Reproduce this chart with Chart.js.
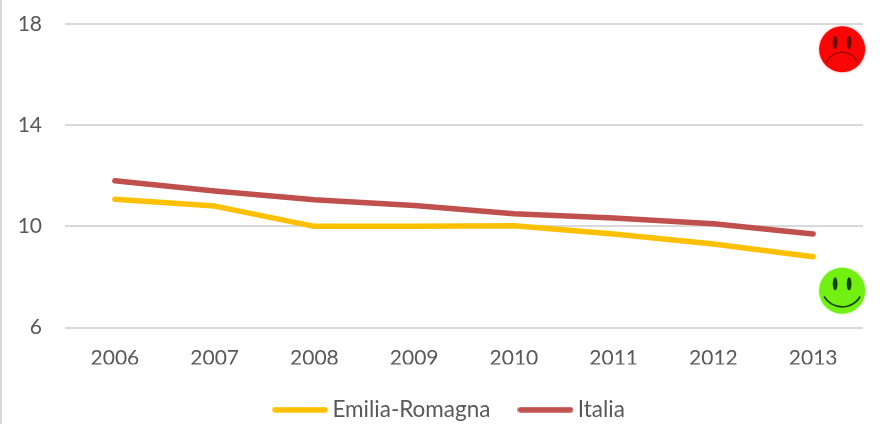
<!DOCTYPE html>
<html>
<head>
<meta charset="utf-8">
<style>
  html, body { margin: 0; padding: 0; background: #fff; }
  canvas { display: block; }
</style>
<script src="https://cdn.jsdelivr.net/npm/chart.js"></script>
</head>
<body>
<canvas id="chart" width="889" height="424"></canvas>
<script>
const years = ['2006', '2007', '2008', '2009', '2010', '2011', '2012', '2013'];
const emilia = [11.07, 10.8, 10.0, 10.0, 10.02, 9.7, 9.3, 8.8];
const italia = [11.8, 11.4, 11.05, 10.82, 10.5, 10.33, 10.1, 9.7];
const yTicks = [6, 10, 14, 18];

const grey = '#595959';
const gridGrey = '#d9d9d9';
const yellow = '#ffc000';
const red = '#c0504d';

// legend key: a short round-capped stroke
function legendKey(color) {
  const c = document.createElement('canvas');
  c.width = 56;
  c.height = 6;
  const ctx = c.getContext('2d');
  ctx.strokeStyle = color;
  ctx.lineWidth = 5.5;
  ctx.lineCap = 'round';
  ctx.beginPath();
  ctx.moveTo(3, 3);
  ctx.lineTo(53, 3);
  ctx.stroke();
  return c;
}

// sad / happy faces sit right of the last category
function drawFace(ctx, x, y, color, glow, happy) {
  const r = 23;
  ctx.save();
  ctx.beginPath();
  ctx.arc(x, y, r, 0, Math.PI * 2);
  ctx.fillStyle = color;
  ctx.shadowColor = glow;
  ctx.shadowBlur = 3;
  ctx.fill();
  ctx.shadowBlur = 0;
  ctx.fillStyle = happy ? '#14400a' : '#6a0a0a';
  [-7, 7].forEach(dx => {
    ctx.beginPath();
    ctx.ellipse(x + dx, y - 7, 2.4, 6.5, 0, 0, Math.PI * 2);
    ctx.fill();
  });
  ctx.strokeStyle = happy ? '#14400a' : '#a00808';
  ctx.lineWidth = happy ? 1.6 : 1.4;
  ctx.beginPath();
  if (happy) ctx.arc(x, y - 5, 21, Math.PI * 0.17, Math.PI * 0.83);
  else ctx.arc(x, y + 20, 17, Math.PI * 1.12, Math.PI * 1.88);
  ctx.stroke();
  ctx.restore();
}

const decorations = {
  id: 'decorations',
  afterLayout(chart) {
    // legend is centred on the whole page, not on the plot
    chart.legend.left += 20.5;
    chart.legend.right += 20.5;
  },
  beforeDraw(chart) {
    const { ctx, height } = chart;
    ctx.fillStyle = gridGrey;
    ctx.fillRect(0, 0, 2, height);
  },
  afterDraw(chart) {
    const { ctx, scales } = chart;
    const x = scales.x.getPixelForValue(7) + 29;
    drawFace(ctx, x, scales.y.getPixelForValue(17), '#fb0606', '#ff9a9a', false);
    drawFace(ctx, x, scales.y.getPixelForValue(7.45), '#72f012', '#b6f590', true);
  }
};

new Chart(document.getElementById('chart'), {
  type: 'line',
  data: {
    labels: years,
    datasets: [
      { label: 'Emilia-Romagna', data: emilia, borderColor: yellow, backgroundColor: yellow, borderWidth: 5.5, borderCapStyle: 'round', borderJoinStyle: 'round', pointStyle: legendKey(yellow) },
      { label: 'Italia', data: italia, borderColor: red, backgroundColor: red, borderWidth: 5.5, borderCapStyle: 'round', borderJoinStyle: 'round', pointStyle: legendKey(red) }
    ]
  },
  options: {
    responsive: false,
    animation: false,
    layout: { padding: { top: 24, right: 26, bottom: -7, left: 0 } },
    elements: {
      line: { tension: 0 },
      point: { radius: 0 }
    },
    plugins: {
      tooltip: { enabled: false },
      legend: {
        position: 'bottom',
        labels: {
          usePointStyle: true,
          pointStyleWidth: 42,
          color: grey,
          padding: 34,
          font: { family: 'Lato', size: 22.5 }
        }
      }
    },
    scales: {
      x: {
        offset: true,
        grid: { display: false },
        border: { display: false },
        ticks: { color: grey, padding: 10, font: { family: 'Lato', size: 21 }, maxRotation: 0 },
        afterFit(scale) { scale.height = 37; }
      },
      y: {
        min: 6,
        max: 18,
        afterBuildTicks(scale) { scale.ticks = yTicks.map(value => ({ value })); },
        grid: { color: gridGrey, lineWidth: 2, drawTicks: false },
        border: { display: false },
        ticks: { color: grey, padding: 23, font: { family: 'Lato', size: 21 } },
        afterFit(scale) {
          scale.width = 65;
          scale.paddingTop = 0;
          scale.paddingBottom = 0;
        }
      }
    }
  },
  plugins: [decorations]
});
</script>
</body>
</html>
